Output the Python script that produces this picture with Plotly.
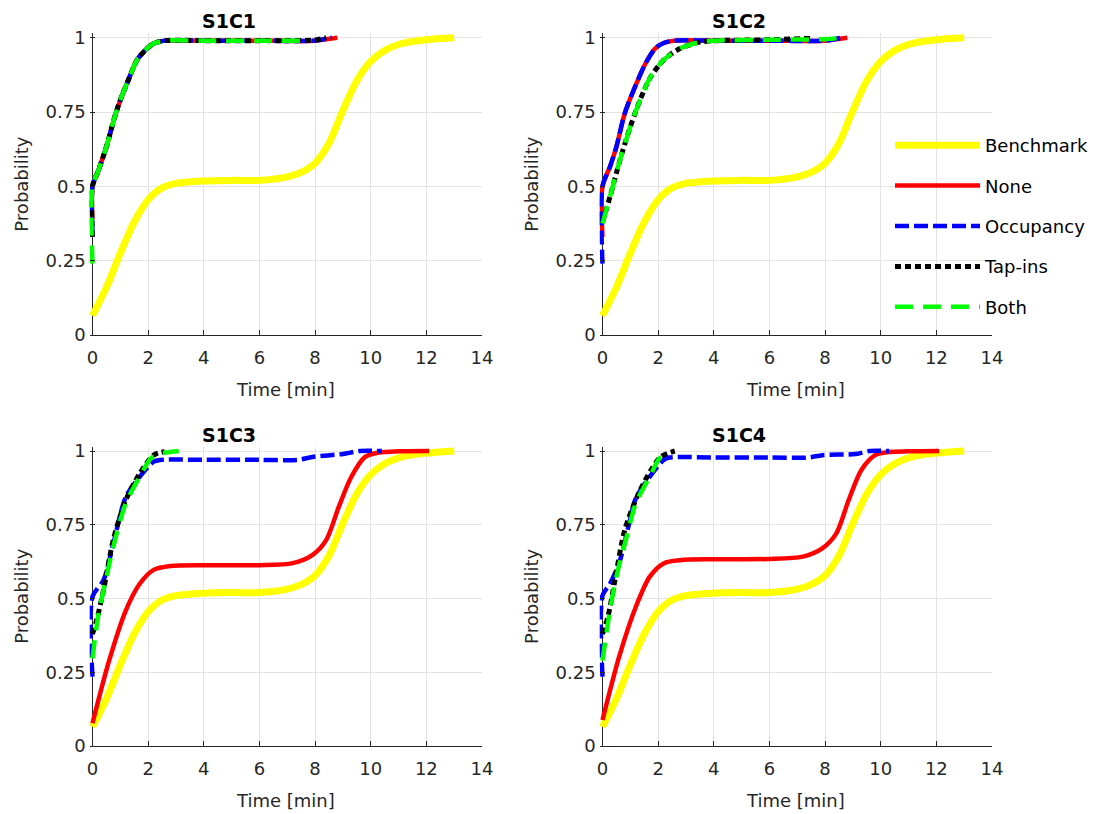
import plotly.graph_objects as go

# Benchmark CDF (same in every panel)
BENCH_T = [0, 0.5, 1, 1.5, 2, 2.5, 3, 4, 5, 6, 7, 7.5, 8, 8.5, 9, 9.5, 10, 10.5, 11, 11.5, 12, 12.5, 13]
BENCH_P = [0.065, 0.16, 0.275, 0.38, 0.455, 0.495, 0.51, 0.518, 0.52, 0.52, 0.532, 0.547, 0.578, 0.645,
           0.755, 0.855, 0.92, 0.957, 0.977, 0.987, 0.993, 0.997, 1.0]

# S1C1
S1C1_NONE_T = [0, 0, 0.2, 0.5, 0.8, 1.0, 1.3, 1.6, 1.9, 2.2, 2.6, 4, 6, 8, 8.4, 8.8]
S1C1_NONE_P = [0.39, 0.5, 0.55, 0.633, 0.734, 0.79, 0.86, 0.925, 0.958, 0.98, 0.99, 0.99, 0.99, 0.99, 0.995, 1.0]
S1C1_OCC_T = [0, 0, 0.2, 0.5, 0.8, 1.0, 1.3, 1.6, 1.9, 2.2, 2.6, 4, 6, 8, 8.6]
S1C1_OCC_P = [0.35, 0.5, 0.55, 0.633, 0.734, 0.79, 0.86, 0.925, 0.958, 0.98, 0.99, 0.99, 0.99, 0.99, 1.0]
S1C1_TAP_T = [0, 0, 0.2, 0.5, 0.8, 1.0, 1.3, 1.6, 1.9, 2.2, 2.6, 4, 6, 8, 8.4]
S1C1_TAP_P = [0.33, 0.5, 0.55, 0.633, 0.734, 0.79, 0.86, 0.925, 0.958, 0.98, 0.99, 0.99, 0.99, 0.992, 1.0]
S1C1_BOTH_T = [0, 0, 0.2, 0.5, 0.8, 1.0, 1.3, 1.6, 1.9, 2.2, 2.6, 4, 6, 7.7]
S1C1_BOTH_P = [0.24, 0.5, 0.55, 0.633, 0.734, 0.79, 0.86, 0.925, 0.958, 0.98, 0.99, 0.99, 0.99, 0.99]

# S1C2
S1C2_NONE_T = [0, 0, 0.27, 0.5, 0.8, 1.15, 1.55, 1.9, 2.2, 2.6, 4, 6, 8, 8.4, 8.8]
S1C2_NONE_P = [0.33, 0.5, 0.566, 0.633, 0.745, 0.83, 0.914, 0.964, 0.982, 0.99, 0.99, 0.99, 0.99, 0.995, 1.0]
S1C2_OCC_T = [0, 0, 0.27, 0.5, 0.8, 1.15, 1.55, 1.9, 2.2, 2.6, 4, 6, 8, 8.6]
S1C2_OCC_P = [0.24, 0.5, 0.566, 0.633, 0.745, 0.83, 0.914, 0.964, 0.982, 0.99, 0.99, 0.99, 0.99, 1.0]
S1C2_TAP_T = [0, 0.27, 0.63, 1.0, 1.35, 1.7, 2.2, 2.8, 3.5, 4.1, 6, 7.6]
S1C2_TAP_P = [0.38, 0.465, 0.589, 0.70, 0.79, 0.863, 0.925, 0.964, 0.985, 0.99, 0.993, 0.998]
S1C2_BOTH_T = [0, 0.27, 0.63, 1.0, 1.35, 1.7, 2.2, 2.8, 3.5, 4.1, 6, 8.0, 8.7]
S1C2_BOTH_P = [0.375, 0.465, 0.589, 0.70, 0.79, 0.863, 0.925, 0.964, 0.985, 0.99, 0.993, 0.995, 1.0]

# S1C3
S1C3_NONE_T = [0, 0.6, 1.2, 1.7, 2.2, 2.8, 4, 6, 7.2, 7.9, 8.4, 8.85, 9.3, 9.8, 10.3, 11, 12.1]
S1C3_NONE_P = [0.077, 0.29, 0.46, 0.55, 0.597, 0.61, 0.613, 0.613, 0.62, 0.647, 0.698, 0.81, 0.912,
               0.98, 0.995, 0.999, 1.0]
S1C3_OCC_T = [0, 0, 0.4, 0.75, 1.2, 1.7, 2.2, 2.45, 4, 6, 7.4, 7.9, 9.0, 9.6, 10.4]
S1C3_OCC_P = [0.235, 0.506, 0.563, 0.687, 0.845, 0.913, 0.964, 0.97, 0.97, 0.97, 0.97, 0.98, 0.99, 1.0, 1.0]
S1C3_TAP_T = [0, 0.15, 0.4, 0.75, 1.2, 1.7, 2.2, 2.6]
S1C3_TAP_P = [0.38, 0.427, 0.53, 0.70, 0.834, 0.924, 0.986, 0.998]
S1C3_BOTH_T = [0, 0.2, 0.45, 0.75, 1.2, 1.7, 2.1, 2.4, 3.1]
S1C3_BOTH_P = [0.297, 0.438, 0.55, 0.676, 0.823, 0.913, 0.975, 0.99, 1.0]

# S1C4
S1C4_NONE_T = [0, 0.6, 1.2, 1.7, 2.2, 2.8, 4, 6, 7.2, 7.9, 8.4, 8.85, 9.3, 9.8, 10.3, 11, 12.1]
S1C4_NONE_P = [0.088, 0.303, 0.472, 0.574, 0.619, 0.63, 0.633, 0.634, 0.642, 0.67, 0.72, 0.834, 0.935,
               0.986, 0.997, 0.999, 1.0]
S1C4_OCC_T = [0, 0, 0.27, 0.63, 0.93, 1.2, 1.7, 2.2, 2.4, 4, 6, 7.4, 7.9, 9.1, 9.6, 10.3]
S1C4_OCC_P = [0.235, 0.51, 0.55, 0.63, 0.743, 0.84, 0.913, 0.97, 0.978, 0.978, 0.978, 0.978, 0.986,
              0.99, 1.0, 1.0]
S1C4_TAP_T = [0, 0.2, 0.45, 0.8, 1.3, 1.75, 2.1, 2.6]
S1C4_TAP_P = [0.38, 0.44, 0.563, 0.732, 0.857, 0.936, 0.981, 1.0]
S1C4_BOTH_T = [0, 0.27, 0.5, 0.87, 1.2, 1.7, 2.05, 2.3]
S1C4_BOTH_P = [0.29, 0.46, 0.574, 0.71, 0.823, 0.913, 0.975, 0.985]

PANEL_TITLES = ["S1C1", "S1C2", "S1C3", "S1C4"]
SERIES_NAMES = ["Benchmark", "None", "Occupancy", "Tap-ins", "Both"]
X_TICKS = [0, 2, 4, 6, 8, 10, 12, 14]
Y_TICKS = [0, 0.25, 0.5, 0.75, 1]
Y_TICK_TEXT = ["0", "0.25", "0.5", "0.75", "1"]

panels = [
    [(BENCH_T, BENCH_P), (S1C1_NONE_T, S1C1_NONE_P), (S1C1_OCC_T, S1C1_OCC_P),
     (S1C1_TAP_T, S1C1_TAP_P), (S1C1_BOTH_T, S1C1_BOTH_P)],
    [(BENCH_T, BENCH_P), (S1C2_NONE_T, S1C2_NONE_P), (S1C2_OCC_T, S1C2_OCC_P),
     (S1C2_TAP_T, S1C2_TAP_P), (S1C2_BOTH_T, S1C2_BOTH_P)],
    [(BENCH_T, BENCH_P), (S1C3_NONE_T, S1C3_NONE_P), (S1C3_OCC_T, S1C3_OCC_P),
     (S1C3_TAP_T, S1C3_TAP_P), (S1C3_BOTH_T, S1C3_BOTH_P)],
    [(BENCH_T, BENCH_P), (S1C4_NONE_T, S1C4_NONE_P), (S1C4_OCC_T, S1C4_OCC_P),
     (S1C4_TAP_T, S1C4_TAP_P), (S1C4_BOTH_T, S1C4_BOTH_P)],
]

styles = {
    "Benchmark": dict(color="#FFFF00", width=7, dash="solid"),
    "None": dict(color="#FF0000", width=4.5, dash="solid"),
    "Occupancy": dict(color="#0000FF", width=4.5, dash="14px,5px"),
    "Tap-ins": dict(color="#000000", width=5, dash="6px,4px"),
    "Both": dict(color="#00FF00", width=4.5, dash="18px,10px"),
}

W, H = 1099, 814
FONT = "DejaVu Sans"
INK = "#262626"

# pixel boxes of the four axes: (left, right, top, bottom)
boxes = [(89.7, 482, 33.2, 335), (599.7, 992, 33.2, 335),
         (89.7, 482, 446.6, 746), (599.7, 992, 446.6, 746)]

fig = go.Figure()
layout = dict(
    width=W, height=H, margin=dict(l=0, r=0, t=0, b=0, autoexpand=False),
    paper_bgcolor="white", plot_bgcolor="white",
    font=dict(family=FONT, size=18, color=INK),
    showlegend=True,
    legend=dict(x=890 / W, y=1 - 127 / H, xanchor="left", yanchor="top",
                bgcolor="rgba(0,0,0,0)", font=dict(size=18, color="#000000"),
                itemwidth=85, tracegroupgap=14, traceorder="grouped"),
)
annotations = []

for i, series in enumerate(panels):
    ax = "" if i == 0 else str(i + 1)
    l, r, t, b = boxes[i]
    for name, (tx, py) in zip(SERIES_NAMES, series):
        st = styles[name]
        fig.add_trace(go.Scatter(
            x=tx, y=py, mode="lines", name=name, legendgroup=name,
            showlegend=(i == 0),
            line=dict(color=st["color"], width=st["width"], dash=st["dash"],
                      shape="spline", smoothing=0.8),
            xaxis="x" + ax, yaxis="y" + ax, hoverinfo="skip"))
    layout["xaxis" + ax] = dict(
        domain=[l / W, r / W], anchor="y" + ax, range=[-0.1, 14],
        tickvals=X_TICKS, ticks="inside", ticklen=5, tickcolor=INK,
        showline=True, linecolor=INK, linewidth=1, mirror=False,
        showgrid=True, gridcolor="#E3E3E3", gridwidth=1,
        zeroline=True, zerolinecolor=INK, zerolinewidth=1,
        tickfont=dict(size=18, color=INK), ticklabelstandoff=6,
        title=dict(text="Time [min]", font=dict(size=18, color=INK), standoff=16))
    layout["yaxis" + ax] = dict(
        domain=[1 - b / H, 1 - t / H], anchor="x" + ax, range=[0, 1.015],
        tickvals=Y_TICKS, ticktext=Y_TICK_TEXT, ticks="inside", ticklen=5, tickcolor=INK,
        showline=False, showgrid=True, gridcolor="#E3E3E3", gridwidth=1,
        zeroline=False,
        tickfont=dict(size=18, color=INK), ticklabelstandoff=3,
        title=dict(text="Probability", font=dict(size=18, color=INK), standoff=12))
    annotations.append(dict(
        text="<b>" + PANEL_TITLES[i] + "</b>", xref="x" + ax, yref="paper",
        x=4.9, y=1 - (t + 1) / H, xanchor="center", yanchor="bottom",
        showarrow=False, font=dict(size=19, color="#000000")))

layout["annotations"] = annotations
fig.update_layout(**layout)
fig.write_html("out.html")
